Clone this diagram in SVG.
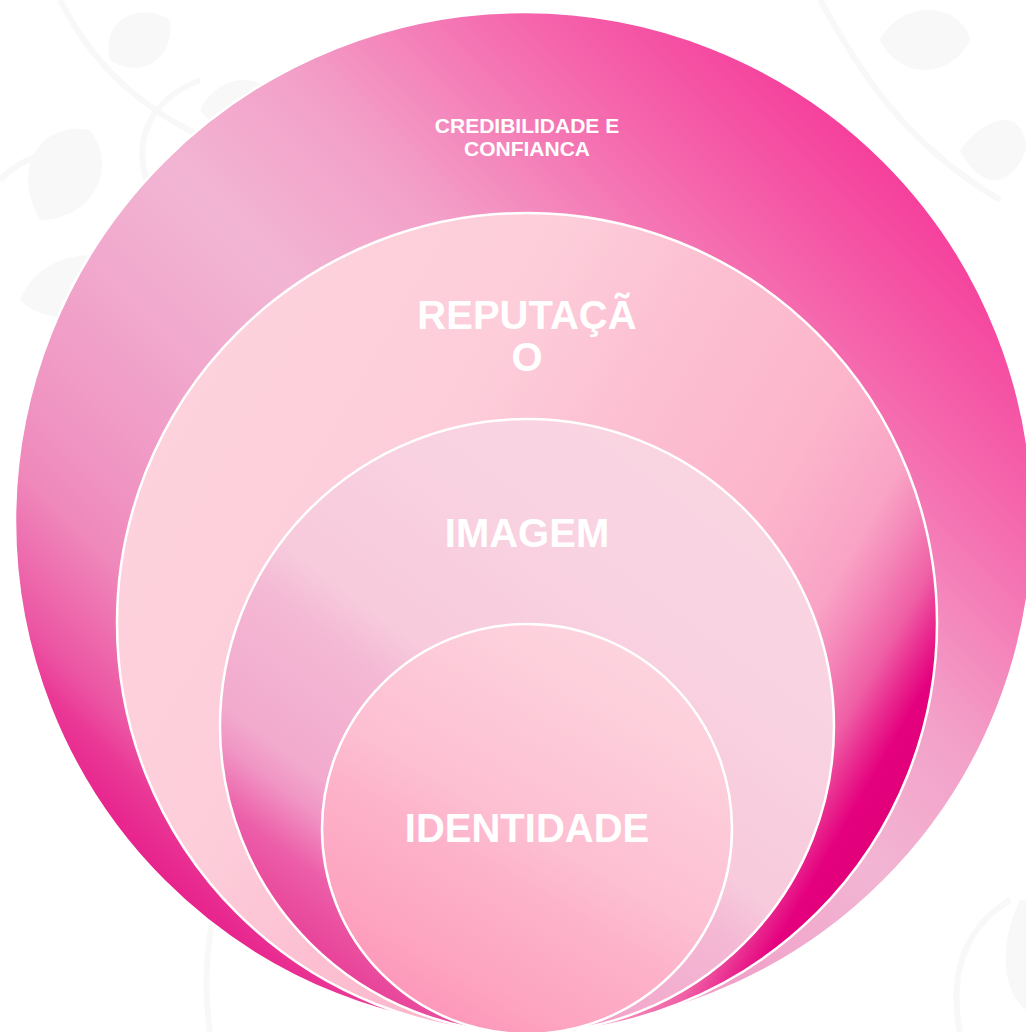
<svg xmlns="http://www.w3.org/2000/svg" width="1026" height="1032" viewBox="0 0 1026 1032">
<defs>
<linearGradient id="g1" gradientUnits="userSpaceOnUse" x1="884" y1="161" x2="164" y2="881">
<stop offset="0" stop-color="#f5409c"/>
<stop offset="0.03" stop-color="#f5479f"/>
<stop offset="0.165" stop-color="#f56aae"/>
<stop offset="0.35" stop-color="#f3a0c8"/>
<stop offset="0.5" stop-color="#f2b5d3"/>
<stop offset="0.62" stop-color="#f1a8cc"/>
<stop offset="0.75" stop-color="#f095c3"/>
<stop offset="0.815" stop-color="#ef88bb"/>
<stop offset="0.917" stop-color="#ec55a3"/>
<stop offset="0.95" stop-color="#ea3896"/>
<stop offset="0.985" stop-color="#e8288f"/>
<stop offset="1" stop-color="#e7228c"/>
</linearGradient>
<linearGradient id="g2" gradientUnits="userSpaceOnUse" x1="172" y1="418" x2="882" y2="828">
<stop offset="0" stop-color="#fdd2dd"/>
<stop offset="0.3" stop-color="#fdcdda"/>
<stop offset="0.47" stop-color="#fcc0d2"/>
<stop offset="0.685" stop-color="#fcb5cb"/>
<stop offset="0.8" stop-color="#f9a3c5"/>
<stop offset="0.845" stop-color="#f486b8"/>
<stop offset="0.895" stop-color="#ef5fa5"/>
<stop offset="0.93" stop-color="#e92a8f"/>
<stop offset="0.96" stop-color="#e4007e"/>
<stop offset="1" stop-color="#e2007a"/>
</linearGradient>
<linearGradient id="g3" gradientUnits="userSpaceOnUse" x1="711" y1="480" x2="343" y2="972">
<stop offset="0" stop-color="#f9d4e1"/>
<stop offset="0.2" stop-color="#f9d3e1"/>
<stop offset="0.5" stop-color="#f7cadc"/>
<stop offset="0.583" stop-color="#f4b8d4"/>
<stop offset="0.77" stop-color="#f2aacd"/>
<stop offset="0.82" stop-color="#f095c4"/>
<stop offset="0.866" stop-color="#ee75b4"/>
<stop offset="0.9" stop-color="#ec5ea9"/>
<stop offset="0.953" stop-color="#ea4f9f"/>
<stop offset="1" stop-color="#e84399"/>
</linearGradient>
<linearGradient id="g4" gradientUnits="userSpaceOnUse" x1="630" y1="651" x2="424" y2="1007">
<stop offset="0" stop-color="#fdd3de"/>
<stop offset="0.11" stop-color="#fdd0dc"/>
<stop offset="0.5" stop-color="#fdbfd2"/>
<stop offset="0.63" stop-color="#fdb3ca"/>
<stop offset="0.87" stop-color="#fda4c0"/>
<stop offset="1" stop-color="#fd98ba"/>
</linearGradient>
</defs>
<style>
.ring{stroke:#ffffff;stroke-width:2.5}
.lbl{fill:#ffffff;font-family:"Liberation Sans",Arial,sans-serif;font-weight:bold;text-anchor:middle}
.big{font-size:40px}
.small{font-size:21px}
.deco{fill:#f8f8f9}
.decoL{fill:none;stroke:#f8f8f9;stroke-width:6}
</style>
<rect x="0" y="0" width="1026" height="1032" fill="#ffffff"/>
<g id="background-decoration">
<path class="deco" d="M40 220 C10 170 40 120 90 130 C120 170 90 220 40 220 Z"/>
<path class="deco" d="M110 60 C100 20 140 0 170 20 C175 60 140 80 110 60 Z"/>
<path class="deco" d="M200 110 C220 70 270 70 280 110 C260 140 220 140 200 110 Z"/>
<path class="deco" d="M20 300 C40 250 110 240 140 280 C110 320 50 330 20 300 Z"/>
<path class="decoL" d="M60 0 C100 80 160 120 230 150"/>
<path class="decoL" d="M150 190 C130 140 150 100 200 80"/>
<path class="deco" d="M880 40 C900 0 960 0 970 40 C950 80 900 80 880 40 Z"/>
<path class="deco" d="M960 150 C990 110 1026 110 1026 150 C1010 190 980 190 960 150 Z"/>
<path class="decoL" d="M820 0 C860 70 900 140 1000 200"/>
<path class="deco" d="M1020 900 C1000 940 1000 990 1026 1010 L1026 900 Z"/>
<path class="decoL" d="M960 1032 C950 980 960 930 1010 900"/>
<path class="decoL" d="M210 1032 C200 960 210 880 260 820"/>
<path class="decoL" d="M0 180 C30 150 60 150 80 160"/>
</g>
<g id="node-credibilidade">
<circle cx="524" cy="521" r="509" fill="url(#g1)" class="ring"/>
<text class="lbl small" x="527" y="133">CREDIBILIDADE E</text>
<text class="lbl small" x="527" y="156">CONFIANCA</text>
</g>
<g id="node-reputacao">
<circle cx="527" cy="623" r="410" fill="url(#g2)" class="ring"/>
<text class="lbl big" x="527" y="329">REPUTAÇÃ</text>
<text class="lbl big" x="527" y="371">O</text>
</g>
<g id="node-imagem">
<circle cx="527" cy="726" r="307" fill="url(#g3)" class="ring"/>
<text class="lbl big" x="527" y="547">IMAGEM</text>
</g>
<g id="node-identidade">
<circle cx="527" cy="829" r="205" fill="url(#g4)" class="ring"/>
<text class="lbl big" x="527" y="842">IDENTIDADE</text>
</g>
<g id="connectors"/>
</svg>
